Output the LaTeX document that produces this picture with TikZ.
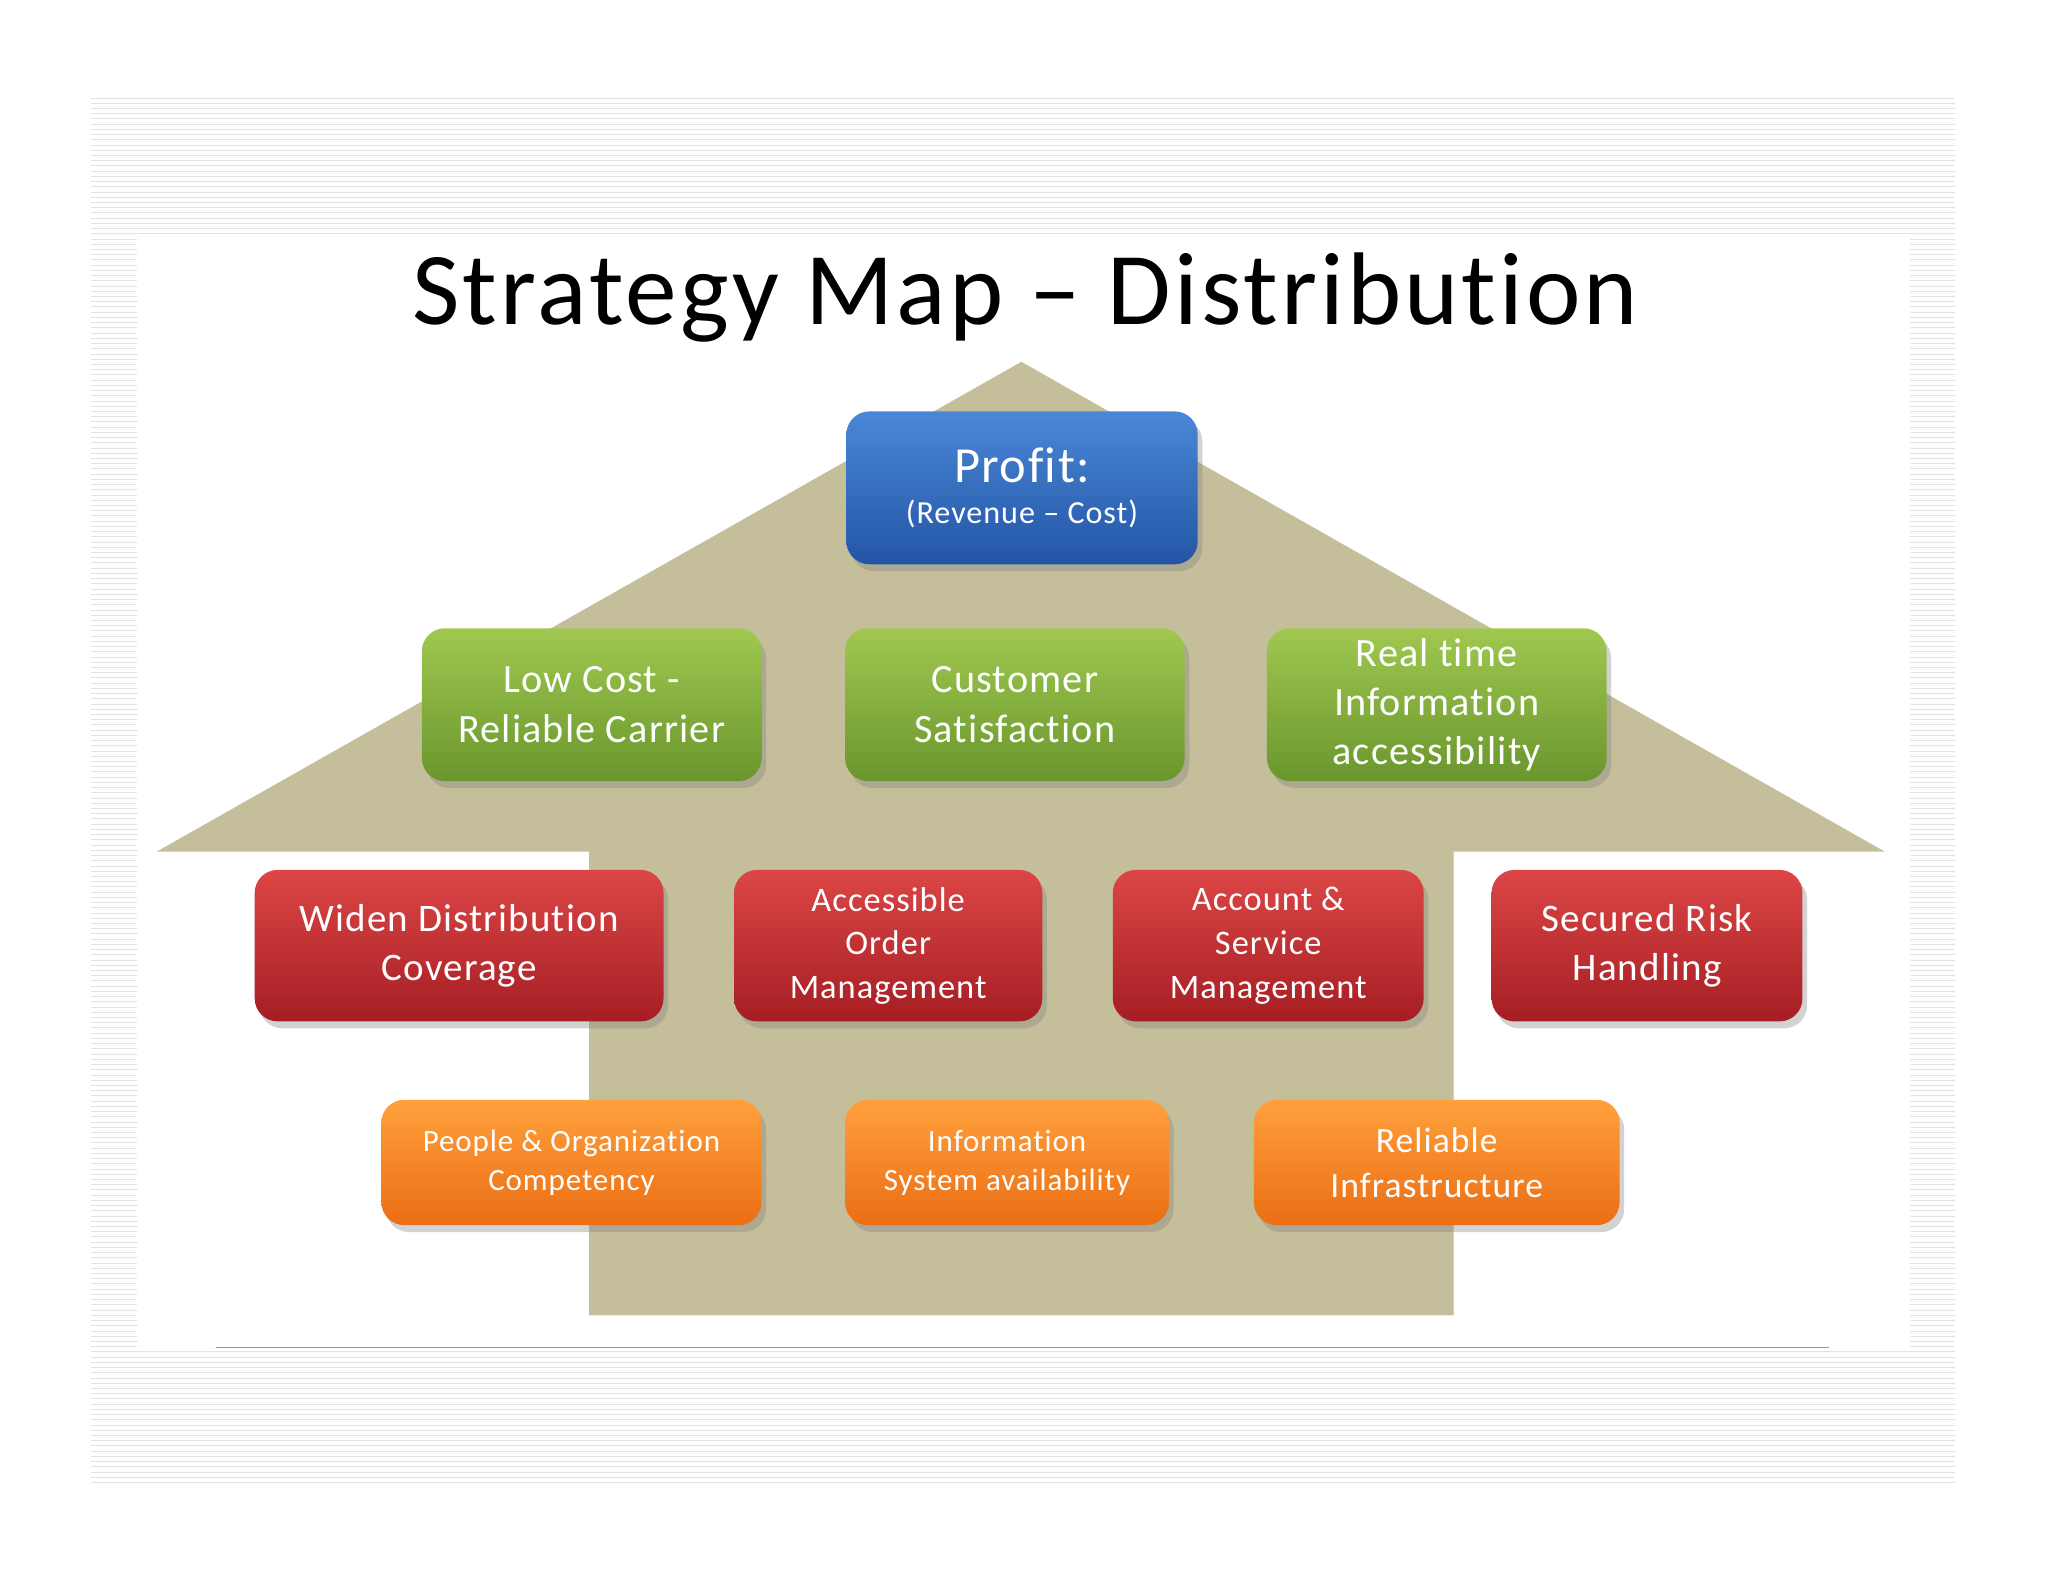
\documentclass[tikz,border=0pt]{standalone}
\usepackage{fontspec}
\setmainfont[Ligatures={NoCommon},LetterSpace=3]{Carlito}
\usetikzlibrary{shadows}
\definecolor{tan}{RGB}{197,190,155}
\tikzset{x=0.02cm,y=0.02cm,
 box/.style={rounded corners=10pt,draw=none,text=white,align=center,inner sep=0pt,
   drop shadow={shadow xshift=2pt,shadow yshift=-3pt,opacity=0.35}},
 bluebox/.style={box,top color={rgb,255:red,75;green,135;blue,215},bottom color={rgb,255:red,35;green,85;blue,165}},
 greenbox/.style={box,top color={rgb,255:red,160;green,200;blue,80},bottom color={rgb,255:red,105;green,150;blue,45},font=\fontsize{17.5}{21.5}\selectfont},
 redbox/.style={box,top color={rgb,255:red,220;green,70;blue,70},bottom color={rgb,255:red,165;green,30;blue,35},font=\fontsize{17}{21.5}\selectfont},
 orangebox/.style={box,top color={rgb,255:red,255;green,160;blue,60},bottom color={rgb,255:red,235;green,110;blue,20}},
}
\begin{document}
\begin{tikzpicture}
\useasboundingbox (0,0) rectangle (1568,-1211);
\fill[white] (0,0) rectangle (1568,-1211);
\foreach \y in {75,79,...,1137}{\draw[gray!22,line width=0.4pt] (70,-\y) -- (1497,-\y);}
\fill[white] (105,-180) rectangle (1462,-1033);
\draw[red!60,line width=0.4pt] (165,-1032) -- (1400,-1032);
\node[font=\fontsize{45}{52}\selectfont] (title) at (785,-228) {Strategy Map -- Distribution};
\fill[tan] (120,-652) -- (782,-277) -- (1443,-652) -- (1113,-652) -- (1113,-1007) -- (451,-1007) -- (451,-652) -- cycle;
\node[bluebox,minimum width=269*0.02cm,minimum height=117*0.02cm] (profit) at (782.5,-373.5)
  {{\fontsize{22}{26}\selectfont Profit:}\\[6pt]{\fontsize{14}{17}\selectfont (Revenue -- Cost)}};
% green
\node[greenbox,minimum width=260*0.02cm,minimum height=117*0.02cm] (g1) at (453,-539.5) {Low Cost -\\Reliable Carrier};
\node[greenbox,minimum width=260*0.02cm,minimum height=117*0.02cm] (g2) at (777,-539.5) {Customer\\Satisfaction};
\node[greenbox,minimum width=260*0.02cm,minimum height=117*0.02cm] (g3) at (1100,-539.5) {Real time\\Information\\accessibility};
% red
\node[redbox,minimum width=313*0.02cm,minimum height=116*0.02cm] (r1) at (351.5,-724) {Widen Distribution\\Coverage};
\node[redbox,minimum width=236*0.02cm,minimum height=116*0.02cm,font=\fontsize{15}{19}\selectfont] (r2) at (680,-724) {Accessible\\Order\\Management};
\node[redbox,minimum width=238*0.02cm,minimum height=116*0.02cm,font=\fontsize{15}{19}\selectfont] (r3) at (971,-724) {Account \&\\Service\\Management};
\node[redbox,minimum width=238*0.02cm,minimum height=116*0.02cm] (r4) at (1261,-724) {Secured Risk\\Handling};
% orange
\node[orangebox,minimum width=291*0.02cm,minimum height=96*0.02cm,font=\fontsize{13.5}{17}\selectfont] (o1) at (437.5,-890) {People \& Organization\\Competency};
\node[orangebox,minimum width=248*0.02cm,minimum height=96*0.02cm,font=\fontsize{13.5}{17}\selectfont] (o2) at (771,-890) {Information\\System availability};
\node[orangebox,minimum width=280*0.02cm,minimum height=96*0.02cm,font=\fontsize{15.5}{19.5}\selectfont] (o3) at (1100,-890) {Reliable\\Infrastructure};
\end{tikzpicture}
\end{document}
